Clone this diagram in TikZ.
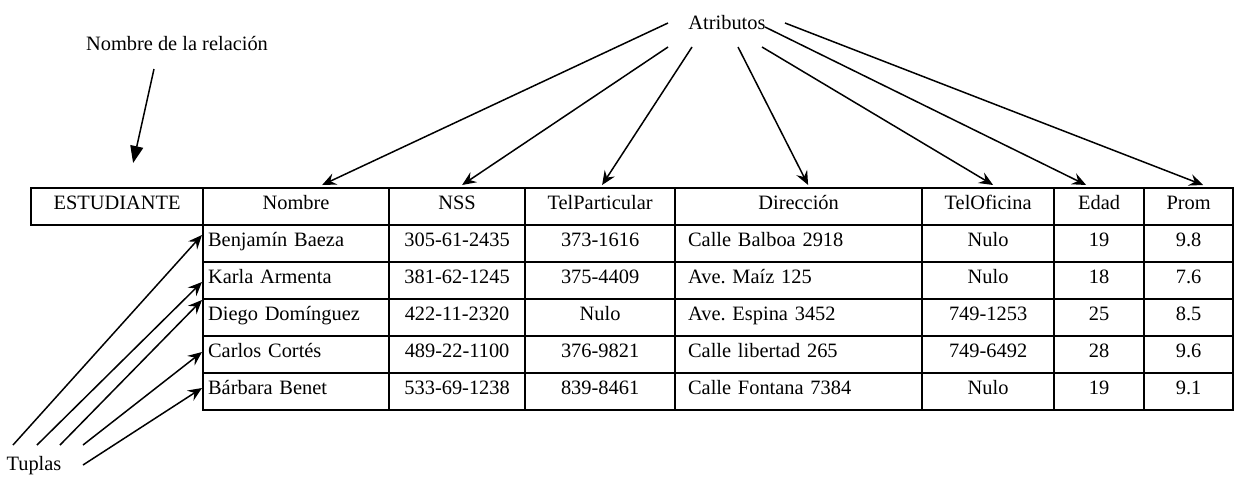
\documentclass[tikz,border=0pt]{standalone}
\usepackage{fontspec}
\setmainfont{Liberation Serif}
\usetikzlibrary{arrows.meta}
\frenchspacing

\tikzset{
  cell/.style={draw, line width=1.1pt, anchor=north west, inner sep=0pt,
    minimum height=18.5pt, text height=6.5pt, text depth=4pt},
  lcell/.style={align=left, inner xsep=#1},
  attr/.style={-{Stealth[length=7pt,width=6pt,inset=2.5pt]}, line width=0.75pt},
  relarrow/.style={-{Triangle[length=8.5pt,width=6.5pt]}, line width=0.75pt}
}

\begin{document}
\begin{tikzpicture}[x=0.5pt, y=-0.5pt, font=\fontsize{10.2pt}{12pt}\selectfont]
  \useasboundingbox (0,0) rectangle (1235,478);

  % header row
  \node[cell, minimum width=86pt] (est) at (30,187) {ESTUDIANTE};
  \foreach \n/\x/\w/\t in {Nom/202/93/Nombre, NSS/388/68/NSS, TP/524/75/TelParticular,
      Dir/674/123.5/Dirección, TO/921/66/TelOficina, Ed/1053/45/Edad, Pr/1143/44.5/Prom}{
    \node[cell, minimum width=\w pt] (h\n) at (\x,187) {\t};
  }

  % tuples
  \foreach \nom/\nss/\tp/\dir/\tof/\ed/\prom [count=\i] in {
      Benjamín Baeza/305-61-2435/373-1616/Calle Balboa 2918/Nulo/19/9.8,
      Karla Armenta/381-62-1245/375-4409/Ave. Maíz 125/Nulo/18/7.6,
      Diego Domínguez/422-11-2320/Nulo/Ave. Espina 3452/749-1253/25/8.5,
      Carlos Cortés/489-22-1100/376-9821/Calle libertad 265/749-6492/28/9.6,
      Bárbara Benet/533-69-1238/839-8461/Calle Fontana 7384/Nulo/19/9.1}{
    \node[cell, lcell=2.5pt, text width=88pt] (nom\i) at (202,{187+37*\i}) {\nom};
    \node[cell, minimum width=68pt] (nss\i) at (388,{187+37*\i}) {\nss};
    \node[cell, minimum width=75pt] (tp\i) at (524,{187+37*\i}) {\tp};
    \node[cell, lcell=6.5pt, text width=110.5pt] (dir\i) at (674,{187+37*\i}) {\dir};
    \node[cell, minimum width=66pt] (to\i) at (921,{187+37*\i}) {\tof};
    \node[cell, minimum width=45pt] (ed\i) at (1053,{187+37*\i}) {\ed};
    \node[cell, minimum width=44.5pt] (pr\i) at (1143,{187+37*\i}) {\prom};
  }

  % labels
  \node[anchor=base] (rel) at (177,50) {Nombre de la relación};
  \node[anchor=base] (atrib) at (727,29) {Atributos};
  \node[anchor=base] (tup) at (34,470) {Tuplas};

  \coordinate (r1) at (154,69);
  \draw[relarrow] (r1) -- ([xshift=8pt,yshift=12pt]est.north);

  \coordinate (a1) at (668,23);
  \coordinate (a2) at (668,47);
  \coordinate (a3) at (692,47);
  \coordinate (a4) at (738,47);
  \coordinate (a5) at (762,47);
  \coordinate (a6) at (765,27);
  \coordinate (a7) at (785,23);
  \draw[attr] (a1) -- ([xshift=13pt,yshift=1pt]hNom.north);
  \draw[attr] (a2) -- ([xshift=2.5pt,yshift=1pt]hNSS.north);
  \draw[attr] (a3) -- ([xshift=1pt,yshift=1pt]hTP.north);
  \draw[attr] (a4) -- ([xshift=4.75pt,yshift=1pt]hDir.north);
  \draw[attr] (a5) -- ([xshift=2.5pt,yshift=1pt]hTO.north);
  \draw[attr] (a6) -- ([xshift=-6.5pt,yshift=1pt]hEd.north);
  \draw[attr] (a7) -- ([xshift=7.25pt,yshift=1pt]hPr.north);

  \foreach \sx/\sy/\dy [count=\i] in {13/445/-5.5, 37/445/-10.5, 60/445/-1, 83/445/-8.5, 83/465/-8}{
    \coordinate (t\i) at (\sx,\sy);
    \draw[attr] (t\i) -- ([yshift=\dy pt]nom\i.north west);
  }
\end{tikzpicture}
\end{document}
